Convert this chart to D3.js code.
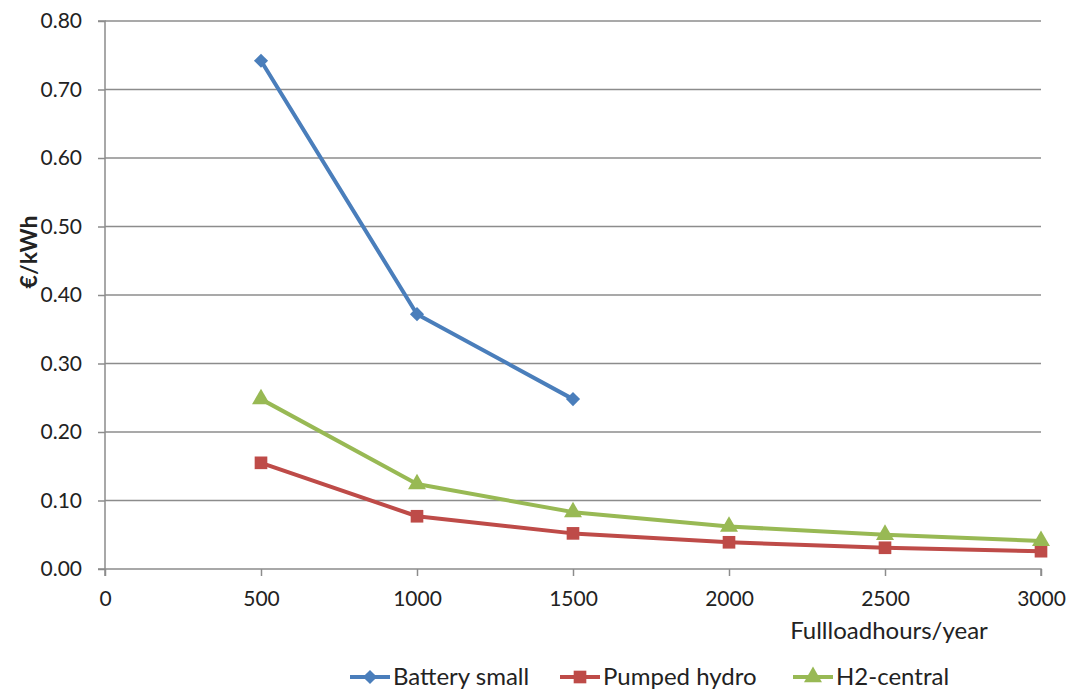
<!DOCTYPE html>
<html>
<head>
<meta charset="utf-8">
<script src="https://cdn.jsdelivr.net/npm/d3@7"></script>
<style>
  body { margin: 0; background: #fff; }
  text { font-family: Lato, "Open Sans", sans-serif; fill: #222; }
</style>
</head>
<body>
<svg id="chart" width="1070" height="691"></svg>
<script>
// cost per kWh vs full load hours per year
const hours = [500, 1000, 1500, 2000, 2500, 3000];
const batterySmall = [0.742, 0.372, 0.248];
const pumpedHydro = [0.155, 0.077, 0.052, 0.039, 0.031, 0.026];
const h2Central = [0.248, 0.124, 0.083, 0.062, 0.050, 0.041];
const xTicks = [0, 500, 1000, 1500, 2000, 2500, 3000];
const yTicks = [0, 0.1, 0.2, 0.3, 0.4, 0.5, 0.6, 0.7, 0.8];

// diamond = square turned 45 degrees
const diamond = {
  draw(ctx, size) {
    const r = Math.sqrt(size / 2);
    ctx.moveTo(0, -r); ctx.lineTo(r, 0); ctx.lineTo(0, r); ctx.lineTo(-r, 0); ctx.closePath();
  }
};

const series = [
  { name: 'Battery small', values: batterySmall, color: '#4A7EBB', shape: diamond, size: 100 },
  { name: 'Pumped hydro', values: pumpedHydro, color: '#BE4B48', shape: d3.symbolSquare, size: 160 },
  { name: 'H2-central', values: h2Central, color: '#98B954', shape: d3.symbolTriangle, size: 140 }
];

const svg = d3.select('#chart');
const plotLeft = 105, plotRight = 1041, plotTop = 21, plotBottom = 569;

const x = d3.scaleLinear().domain([0, 3000]).range([plotLeft, plotRight]);
const y = d3.scaleLinear().domain([0, 0.8]).range([plotBottom, plotTop]);

// gridlines
svg.append('g')
  .selectAll('line')
  .data(yTicks.slice(1))
  .enter()
  .append('line')
  .attr('x1', plotLeft)
  .attr('x2', plotRight)
  .attr('y1', d => y(d))
  .attr('y2', d => y(d))
  .attr('stroke', '#8c8c8c')
  .attr('stroke-width', 1.5);

const yAxis = svg.append('g')
  .attr('transform', `translate(${plotLeft},0)`)
  .call(d3.axisLeft(y).tickValues(yTicks).tickFormat(d3.format('.2f')).tickSize(7).tickPadding(16));
const xAxis = svg.append('g')
  .attr('transform', `translate(0,${plotBottom})`)
  .call(d3.axisBottom(x).tickValues(xTicks).tickFormat(d3.format('d')).tickSize(7).tickPadding(15));

[yAxis, xAxis].forEach(g => {
  g.select('.domain').attr('stroke', '#8c8c8c').attr('stroke-width', 1.5);
  g.selectAll('.tick line').attr('stroke', '#8c8c8c').attr('stroke-width', 1.5);
  g.selectAll('.tick text').style('font-size', '21px').attr('fill', '#222');
});
xAxis.select('.domain').attr('d', `M${plotLeft},7V0H${plotRight}V7`);
yAxis.select('.domain').attr('d', `M-7,${plotTop}H0V${plotBottom}H-7`);

// axis titles
svg.append('text')
  .attr('transform', 'translate(37,252) rotate(-90)')
  .attr('text-anchor', 'middle')
  .style('font-size', '23px')
  .style('font-weight', 'bold')
  .text('€/kWh');

svg.append('text')
  .attr('x', 889)
  .attr('y', 639)
  .attr('text-anchor', 'middle')
  .style('font-size', '24px')
  .text('Fullloadhours/year');

const line = d3.line()
  .x((d, i) => x(hours[i]))
  .y(d => y(d));

series.forEach(s => {
  svg.append('path')
    .datum(s.values)
    .attr('d', line)
    .attr('fill', 'none')
    .attr('stroke', s.color)
    .attr('stroke-width', 4)
    .attr('stroke-linejoin', 'round');

  svg.append('g')
    .selectAll('path')
    .data(s.values)
    .enter()
    .append('path')
    .attr('transform', (d, i) => `translate(${x(hours[i])},${y(d)})`)
    .attr('d', d3.symbol().type(s.shape).size(s.size))
    .attr('fill', s.color);
});

// legend
const legendX = [350, 560, 793];
const legend = svg.append('g')
  .selectAll('g')
  .data(series)
  .enter()
  .append('g')
  .attr('transform', (d, i) => `translate(${legendX[i]},677)`);

legend.append('line')
  .attr('x1', 0).attr('x2', 40)
  .attr('stroke', d => d.color)
  .attr('stroke-width', 4);
legend.append('path')
  .attr('transform', 'translate(20,0)')
  .attr('d', d => d3.symbol().type(d.shape).size(d.size)())
  .attr('fill', d => d.color);
legend.append('text')
  .attr('x', 43)
  .attr('dy', '0.35em')
  .style('font-size', '24px')
  .text(d => d.name);
</script>
</body>
</html>
